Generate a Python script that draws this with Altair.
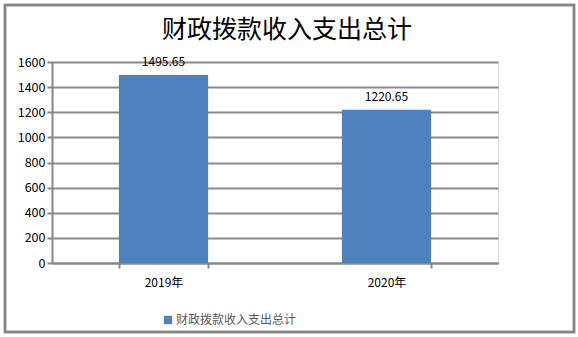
import altair as alt
import pandas as pd

categories = ["2019年", "2020年"]
values = [1495.65, 1220.65]
labels = ["1495.65", "1220.65"]
series_name = "财政拨款收入支出总计"
y_ticks = [0, 200, 400, 600, 800, 1000, 1200, 1400, 1600]

df = pd.DataFrame({"year": categories, "value": values, "label": labels, "series": [series_name] * len(categories)})

FONT = "Noto Sans CJK SC"

x_enc = alt.X("year:N", sort=categories, title=None,
              scale=alt.Scale(paddingInner=0.6, paddingOuter=0.3),
              axis=alt.Axis(labelAngle=0, tickBand="extent", domainColor="#868686", domainWidth=2,
                            tickColor="#868686", tickWidth=2, tickSize=5, labelPadding=9,
                            labelFontSize=12, labelColor="#000000", labelFont=FONT, grid=False))
y_enc = alt.Y("value:Q", title=None,
              scale=alt.Scale(domain=[0, 1600], nice=False, zero=True),
              axis=alt.Axis(values=y_ticks, tickCount=20, format="d", labelOverlap=False,
                            domainColor="#868686", domainWidth=2,
                            tickColor="#868686", tickWidth=2, tickSize=5, labelPadding=2,
                            labelFontSize=12.5, labelColor="#000000", labelFont=FONT,
                            grid=True, gridColor="#8a8a8a", gridWidth=2))

bars = alt.Chart(df).mark_bar(color="#4F81BD").encode(
    x=x_enc, y=y_enc,
    color=alt.Color("series:N", scale=alt.Scale(range=["#4F81BD"]),
                    legend=alt.Legend(title=None, orient="none", legendX=110, legendY=252,
                                      symbolType="square", symbolSize=70, symbolStrokeWidth=0,
                                      labelFontSize=12, labelColor="#595959", labelFont=FONT,
                                      labelOffset=2))
)

text = alt.Chart(df).mark_text(baseline="bottom", dy=-6, fontSize=12, font=FONT, color="#000000").encode(
    x=x_enc, y=y_enc, text="label:N"
)

border = alt.Chart(df).mark_rect(filled=False, stroke="#868686", strokeWidth=2.5).encode(
    x=alt.value(-47), x2=alt.value(522), y=alt.value(-57), y2=alt.value(270)
)

chart = alt.layer(bars, text, border).properties(
    width=446, height=201,
    title=alt.TitleParams(series_name, fontSize=25, font=FONT, fontWeight="normal", color="#000000",
                          anchor="middle", dx=12, offset=-39),
    autosize=alt.AutoSizeParams(type="none"),
    padding={"left": 52, "top": 62, "right": 80, "bottom": 74},
).configure_view(stroke=None).configure(background="#ffffff")

chart.save("out.html", embed_options={"renderer": "svg", "actions": False})
